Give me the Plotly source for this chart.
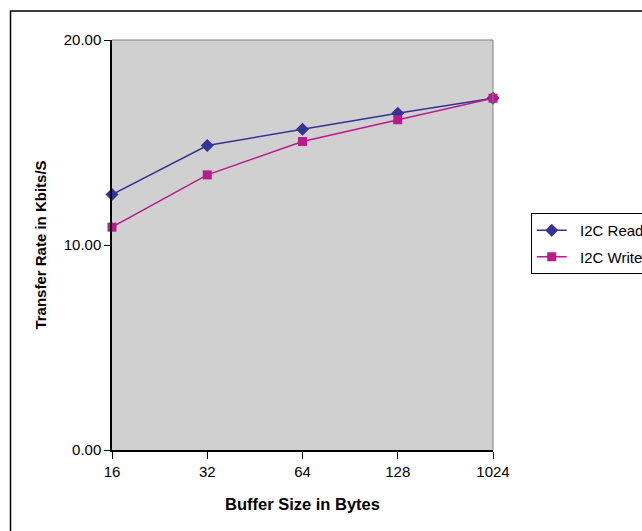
import plotly.graph_objects as go

# Buffer sizes tested (bytes) and measured I2C transfer rates (Kbits/S)
buffer_sizes = ["16", "32", "64", "128", "1024"]
read_rate = [12.46, 14.85, 15.65, 16.43, 17.16]
write_rate = [10.87, 13.42, 15.05, 16.11, 17.16]
y_ticks = [0, 10, 20]
y_tick_labels = ["0.00", "10.00", "20.00"]

FONT = "Liberation Sans, Arial, sans-serif"
READ_COLOR = "#333399"
WRITE_COLOR = "#BB1A8C"
PAD = "\u00a0\u00a0"

xs = list(range(len(buffer_sizes)))

fig = go.Figure()
fig.add_trace(go.Scatter(
    x=xs, y=read_rate, name=PAD + "I2C Read", legendgroup="read",
    mode="lines+markers",
    line=dict(color=READ_COLOR, width=1.5),
    marker=dict(symbol="diamond", size=10, color=READ_COLOR),
    cliponaxis=False,
))
fig.add_trace(go.Scatter(
    x=xs, y=write_rate, name=PAD + "I2C Write", legendgroup="write",
    mode="lines+markers",
    line=dict(color=WRITE_COLOR, width=1.5),
    marker=dict(symbol="square", size=9, color=WRITE_COLOR),
    cliponaxis=False,
))

# Outer chart frame (extends past the right and bottom page edges)
fig.add_shape(type="rect", xref="paper", yref="paper",
              x0=-0.2664, x1=2.0, y0=-1.0, y1=1.0707,
              line=dict(color="black", width=1.5), layer="below")
# Gray top and right edges of the plot area
fig.add_shape(type="line", xref="paper", yref="paper", x0=0, x1=1, y0=1, y1=1,
              line=dict(color="#808080", width=1))
fig.add_shape(type="line", xref="paper", yref="paper", x0=1, x1=1, y0=0, y1=1,
              line=dict(color="#808080", width=1))

fig.update_layout(
    width=642, height=531,
    margin=dict(l=112, r=149, t=40, b=81, autoexpand=False),
    paper_bgcolor="white",
    plot_bgcolor="#D0D0D0",
    font=dict(family=FONT, size=15, color="black"),
    showlegend=True,
    legend=dict(
        x=1.099, y=0.578, xanchor="left", yanchor="top",
        bordercolor="black", borderwidth=1, bgcolor="white",
        font=dict(family=FONT, size=15, color="black"),
        itemwidth=30, traceorder="grouped", tracegroupgap=4,
    ),
    xaxis=dict(
        range=[0, len(buffer_sizes) - 1],
        tickmode="array", tickvals=xs, ticktext=buffer_sizes,
        showgrid=False, zeroline=False,
        showline=True, linecolor="black", linewidth=1.5,
        ticks="outside", ticklen=7, tickcolor="black",
        tickfont=dict(size=15),
        title=dict(text="<b>Buffer Size in Bytes</b>", font=dict(size=16.5), standoff=20),
    ),
    yaxis=dict(
        range=[0, 20],
        tickmode="array", tickvals=y_ticks, ticktext=y_tick_labels,
        showgrid=False, zeroline=False,
        showline=True, linecolor="black", linewidth=1.5,
        ticks="outside", ticklen=6, tickcolor="black",
        tickfont=dict(size=15),
        title=dict(text="<b>Transfer Rate in Kbits/S</b>", font=dict(size=15), standoff=13),
    ),
)

fig.write_html("out.html")
